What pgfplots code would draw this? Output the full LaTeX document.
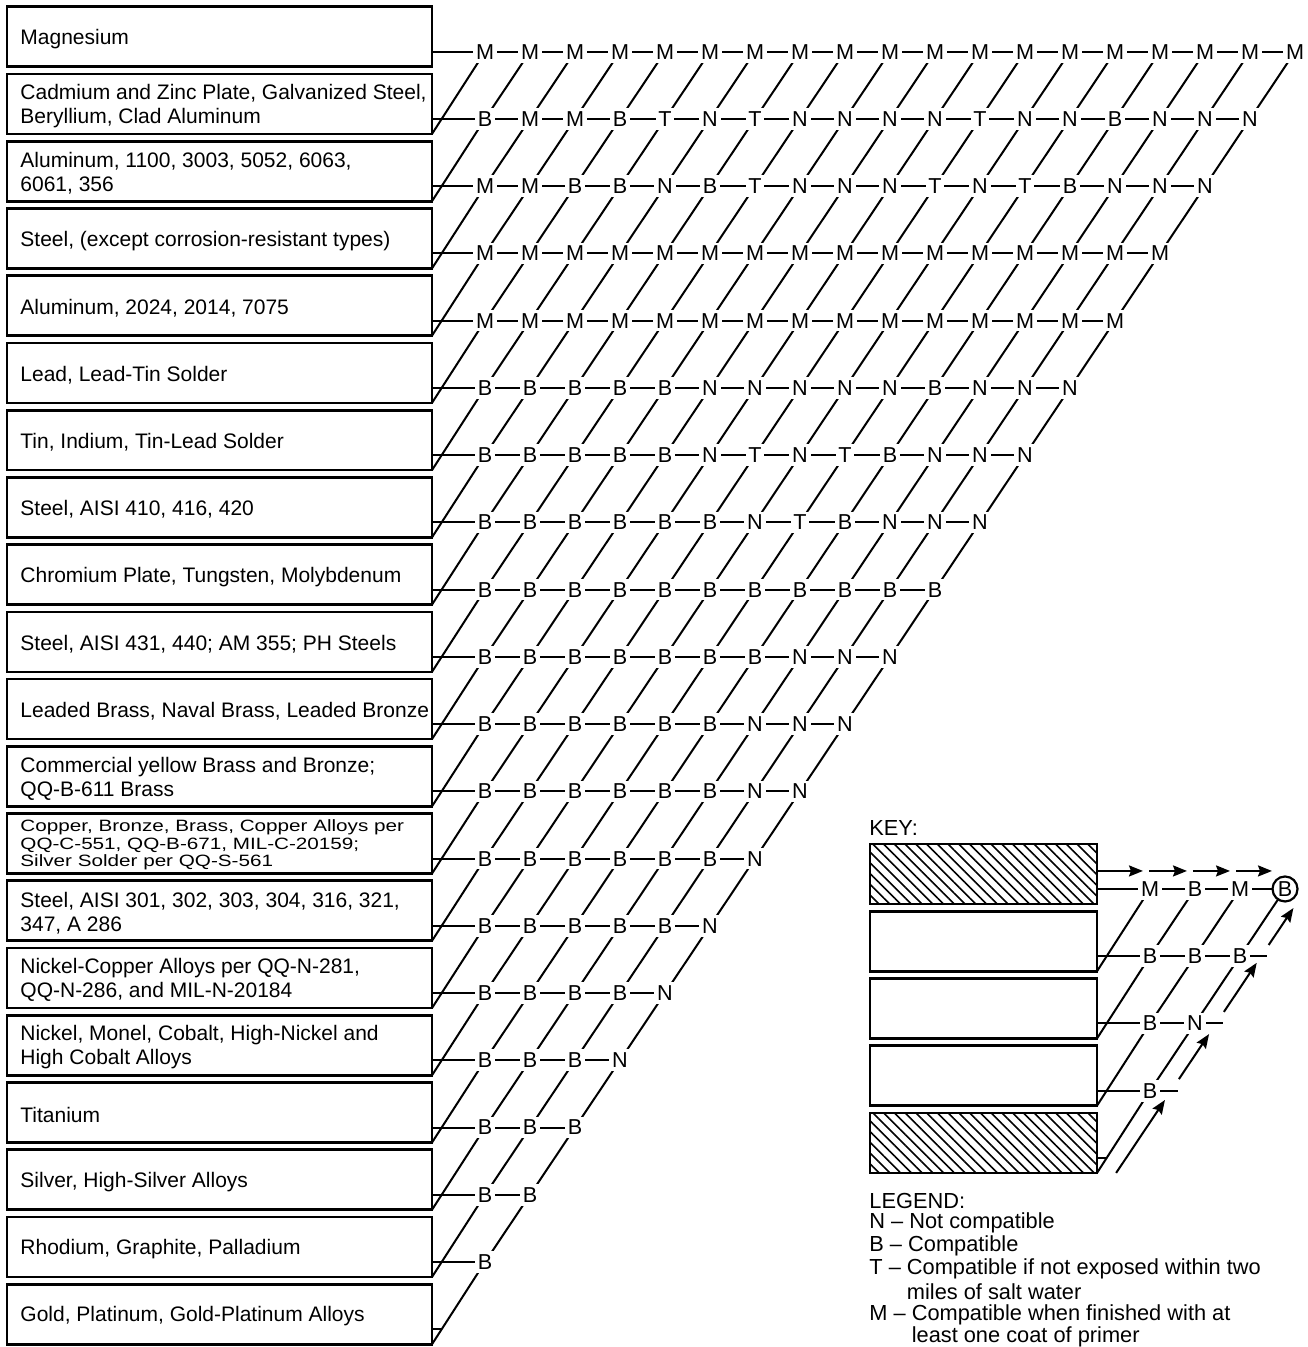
\documentclass[border=0pt]{standalone}
\usepackage{fontspec}
\setmainfont{Liberation Sans}
\usepackage{pgfplots}
\pgfplotsset{compat=1.18}
\usetikzlibrary{patterns.meta,arrows.meta}

\newcommand{\lbl}{\fontsize{10.5}{12}\selectfont}
\newcommand{\leg}{\fontsize{10.9}{12}\selectfont}
\newcommand{\ltr}{\fontsize{10.8}{11}\selectfont}

\pgfplotsset{
  box/.style={black, line width=1.35pt, line join=miter, line cap=rect, mark=none},
  hatched/.style={box, pattern={Lines[angle=-45,distance=3.8pt,line width=0.75pt]}},
  grid/.style={black, line width=1.0pt, mark=none},
  arr/.style={grid, -{Stealth[length=7pt,width=5.5pt,inset=1pt]}},
  letters/.style={draw=none, mark=none, point meta=explicit symbolic,
    nodes near coords,
    every node near coord/.append style={font=\ltr, text=black, fill=white,
      inner xsep=1.4pt, inner ysep=1.7pt, anchor=center}},
}
\tikzset{lab/.style={anchor=west, align=left, font=\lbl, inner sep=0pt}}

\begin{document}
\begin{tikzpicture}
\begin{axis}[
  x=22.5pt, y=33.62pt, y dir=reverse,
  xmin=-10.778, xmax=18.289, ymin=-0.769, ymax=19.264,
  hide axis, clip=false,
]
% frame of the page
\addplot[draw=none] coordinates {(-10.778,-0.769) (18.289,19.264)};

% material boxes
\addplot[box] coordinates {(-10.62,-0.669) (-1.178,-0.669) (-1.178,0.223) (-10.62,0.223) (-10.62,-0.669)};
\addplot[box] coordinates {(-10.62,0.331) (-1.178,0.331) (-1.178,1.223) (-10.62,1.223) (-10.62,0.331)};
\addplot[box] coordinates {(-10.62,1.331) (-1.178,1.331) (-1.178,2.223) (-10.62,2.223) (-10.62,1.331)};
\addplot[box] coordinates {(-10.62,2.331) (-1.178,2.331) (-1.178,3.223) (-10.62,3.223) (-10.62,2.331)};
\addplot[box] coordinates {(-10.62,3.331) (-1.178,3.331) (-1.178,4.223) (-10.62,4.223) (-10.62,3.331)};
\addplot[box] coordinates {(-10.62,4.331) (-1.178,4.331) (-1.178,5.223) (-10.62,5.223) (-10.62,4.331)};
\addplot[box] coordinates {(-10.62,5.331) (-1.178,5.331) (-1.178,6.223) (-10.62,6.223) (-10.62,5.331)};
\addplot[box] coordinates {(-10.62,6.331) (-1.178,6.331) (-1.178,7.223) (-10.62,7.223) (-10.62,6.331)};
\addplot[box] coordinates {(-10.62,7.331) (-1.178,7.331) (-1.178,8.223) (-10.62,8.223) (-10.62,7.331)};
\addplot[box] coordinates {(-10.62,8.331) (-1.178,8.331) (-1.178,9.223) (-10.62,9.223) (-10.62,8.331)};
\addplot[box] coordinates {(-10.62,9.331) (-1.178,9.331) (-1.178,10.223) (-10.62,10.223) (-10.62,9.331)};
\addplot[box] coordinates {(-10.62,10.331) (-1.178,10.331) (-1.178,11.223) (-10.62,11.223) (-10.62,10.331)};
\addplot[box] coordinates {(-10.62,11.331) (-1.178,11.331) (-1.178,12.223) (-10.62,12.223) (-10.62,11.331)};
\addplot[box] coordinates {(-10.62,12.331) (-1.178,12.331) (-1.178,13.223) (-10.62,13.223) (-10.62,12.331)};
\addplot[box] coordinates {(-10.62,13.331) (-1.178,13.331) (-1.178,14.223) (-10.62,14.223) (-10.62,13.331)};
\addplot[box] coordinates {(-10.62,14.331) (-1.178,14.331) (-1.178,15.223) (-10.62,15.223) (-10.62,14.331)};
\addplot[box] coordinates {(-10.62,15.331) (-1.178,15.331) (-1.178,16.223) (-10.62,16.223) (-10.62,15.331)};
\addplot[box] coordinates {(-10.62,16.331) (-1.178,16.331) (-1.178,17.223) (-10.62,17.223) (-10.62,16.331)};
\addplot[box] coordinates {(-10.62,17.331) (-1.178,17.331) (-1.178,18.223) (-10.62,18.223) (-10.62,17.331)};
\addplot[box] coordinates {(-10.62,18.331) (-1.178,18.331) (-1.178,19.223) (-10.62,19.223) (-10.62,18.331)};

% material names
\node[lab] at (axis cs:-10.333,-0.19) {Magnesium};
\node[lab] at (axis cs:-10.333,0.81) {Cadmium and Zinc Plate, Galvanized Steel,\\Beryllium, Clad Aluminum};
\node[lab] at (axis cs:-10.333,1.81) {Aluminum, 1100, 3003, 5052, 6063,\\6061, 356};
\node[lab] at (axis cs:-10.333,2.81) {Steel, (except corrosion-resistant types)};
\node[lab] at (axis cs:-10.333,3.81) {Aluminum, 2024, 2014, 7075};
\node[lab] at (axis cs:-10.333,4.81) {Lead, Lead-Tin Solder};
\node[lab] at (axis cs:-10.333,5.81) {Tin, Indium, Tin-Lead Solder};
\node[lab] at (axis cs:-10.333,6.81) {Steel, AISI 410, 416, 420};
\node[lab] at (axis cs:-10.333,7.81) {Chromium Plate, Tungsten, Molybdenum};
\node[lab] at (axis cs:-10.333,8.81) {Steel, AISI 431, 440; AM 355; PH Steels};
\node[lab] at (axis cs:-10.333,9.81) {Leaded Brass, Naval Brass, Leaded Bronze};
\node[lab] at (axis cs:-10.333,10.81) {Commercial yellow Brass and Bronze;\\QQ-B-611 Brass};
\node[lab, font={\fontsize{8.2}{8.7}\selectfont\addfontfeature{FakeStretch=1.26}\lineskiplimit=-8pt}] at (axis cs:-10.333,11.80) {Copper, Bronze, Brass, Copper Alloys per\\QQ-C-551, QQ-B-671, MIL-C-20159;\\Silver Solder per QQ-S-561};
\node[lab] at (axis cs:-10.333,12.81) {Steel, AISI 301, 302, 303, 304, 316, 321,\\347, A 286};
\node[lab] at (axis cs:-10.333,13.81) {Nickel-Copper Alloys per QQ-N-281,\\QQ-N-286, and MIL-N-20184};
\node[lab] at (axis cs:-10.333,14.81) {Nickel, Monel, Cobalt, High-Nickel and\\High Cobalt Alloys};
\node[lab] at (axis cs:-10.333,15.81) {Titanium};
\node[lab] at (axis cs:-10.333,16.81) {Silver, High-Silver Alloys};
\node[lab] at (axis cs:-10.333,17.81) {Rhodium, Graphite, Palladium};
\node[lab] at (axis cs:-10.333,18.81) {Gold, Platinum, Gold-Platinum Alloys};

% horizontal lines of the rows
\addplot[grid] coordinates {(-1.178,0) (18,0)};
\addplot[grid] coordinates {(-1.178,1) (17,1)};
\addplot[grid] coordinates {(-1.178,2) (16,2)};
\addplot[grid] coordinates {(-1.178,3) (15,3)};
\addplot[grid] coordinates {(-1.178,4) (14,4)};
\addplot[grid] coordinates {(-1.178,5) (13,5)};
\addplot[grid] coordinates {(-1.178,6) (12,6)};
\addplot[grid] coordinates {(-1.178,7) (11,7)};
\addplot[grid] coordinates {(-1.178,8) (10,8)};
\addplot[grid] coordinates {(-1.178,9) (9,9)};
\addplot[grid] coordinates {(-1.178,10) (8,10)};
\addplot[grid] coordinates {(-1.178,11) (7,11)};
\addplot[grid] coordinates {(-1.178,12) (6,12)};
\addplot[grid] coordinates {(-1.178,13) (5,13)};
\addplot[grid] coordinates {(-1.178,14) (4,14)};
\addplot[grid] coordinates {(-1.178,15) (3,15)};
\addplot[grid] coordinates {(-1.178,16) (2,16)};
\addplot[grid] coordinates {(-1.178,17) (1,17)};
\addplot[grid] coordinates {(-1.178,18) (0,18)};
\addplot[grid] coordinates {(-1.178,19) (-0.963,19)};

% diagonals from each box corner
\addplot[grid] coordinates {(-1.178,1.223) (0,0)};
\addplot[grid] coordinates {(-1.178,2.223) (0,1) (1,0)};
\addplot[grid] coordinates {(-1.178,3.223) (0,2) (2,0)};
\addplot[grid] coordinates {(-1.178,4.223) (0,3) (3,0)};
\addplot[grid] coordinates {(-1.178,5.223) (0,4) (4,0)};
\addplot[grid] coordinates {(-1.178,6.223) (0,5) (5,0)};
\addplot[grid] coordinates {(-1.178,7.223) (0,6) (6,0)};
\addplot[grid] coordinates {(-1.178,8.223) (0,7) (7,0)};
\addplot[grid] coordinates {(-1.178,9.223) (0,8) (8,0)};
\addplot[grid] coordinates {(-1.178,10.223) (0,9) (9,0)};
\addplot[grid] coordinates {(-1.178,11.223) (0,10) (10,0)};
\addplot[grid] coordinates {(-1.178,12.223) (0,11) (11,0)};
\addplot[grid] coordinates {(-1.178,13.223) (0,12) (12,0)};
\addplot[grid] coordinates {(-1.178,14.223) (0,13) (13,0)};
\addplot[grid] coordinates {(-1.178,15.223) (0,14) (14,0)};
\addplot[grid] coordinates {(-1.178,16.223) (0,15) (15,0)};
\addplot[grid] coordinates {(-1.178,17.223) (0,16) (16,0)};
\addplot[grid] coordinates {(-1.178,18.223) (0,17) (17,0)};
\addplot[grid] coordinates {(-1.178,19.223) (0,18) (18,0)};

% compatibility letters, one plot per row
\addplot[letters] coordinates {(0,0)[M] (1,0)[M] (2,0)[M] (3,0)[M] (4,0)[M] (5,0)[M] (6,0)[M] (7,0)[M] (8,0)[M] (9,0)[M] (10,0)[M] (11,0)[M] (12,0)[M] (13,0)[M] (14,0)[M] (15,0)[M] (16,0)[M] (17,0)[M] (18,0)[M]};
\addplot[letters] coordinates {(0,1)[B] (1,1)[M] (2,1)[M] (3,1)[B] (4,1)[T] (5,1)[N] (6,1)[T] (7,1)[N] (8,1)[N] (9,1)[N] (10,1)[N] (11,1)[T] (12,1)[N] (13,1)[N] (14,1)[B] (15,1)[N] (16,1)[N] (17,1)[N]};
\addplot[letters] coordinates {(0,2)[M] (1,2)[M] (2,2)[B] (3,2)[B] (4,2)[N] (5,2)[B] (6,2)[T] (7,2)[N] (8,2)[N] (9,2)[N] (10,2)[T] (11,2)[N] (12,2)[T] (13,2)[B] (14,2)[N] (15,2)[N] (16,2)[N]};
\addplot[letters] coordinates {(0,3)[M] (1,3)[M] (2,3)[M] (3,3)[M] (4,3)[M] (5,3)[M] (6,3)[M] (7,3)[M] (8,3)[M] (9,3)[M] (10,3)[M] (11,3)[M] (12,3)[M] (13,3)[M] (14,3)[M] (15,3)[M]};
\addplot[letters] coordinates {(0,4)[M] (1,4)[M] (2,4)[M] (3,4)[M] (4,4)[M] (5,4)[M] (6,4)[M] (7,4)[M] (8,4)[M] (9,4)[M] (10,4)[M] (11,4)[M] (12,4)[M] (13,4)[M] (14,4)[M]};
\addplot[letters] coordinates {(0,5)[B] (1,5)[B] (2,5)[B] (3,5)[B] (4,5)[B] (5,5)[N] (6,5)[N] (7,5)[N] (8,5)[N] (9,5)[N] (10,5)[B] (11,5)[N] (12,5)[N] (13,5)[N]};
\addplot[letters] coordinates {(0,6)[B] (1,6)[B] (2,6)[B] (3,6)[B] (4,6)[B] (5,6)[N] (6,6)[T] (7,6)[N] (8,6)[T] (9,6)[B] (10,6)[N] (11,6)[N] (12,6)[N]};
\addplot[letters] coordinates {(0,7)[B] (1,7)[B] (2,7)[B] (3,7)[B] (4,7)[B] (5,7)[B] (6,7)[N] (7,7)[T] (8,7)[B] (9,7)[N] (10,7)[N] (11,7)[N]};
\addplot[letters] coordinates {(0,8)[B] (1,8)[B] (2,8)[B] (3,8)[B] (4,8)[B] (5,8)[B] (6,8)[B] (7,8)[B] (8,8)[B] (9,8)[B] (10,8)[B]};
\addplot[letters] coordinates {(0,9)[B] (1,9)[B] (2,9)[B] (3,9)[B] (4,9)[B] (5,9)[B] (6,9)[B] (7,9)[N] (8,9)[N] (9,9)[N]};
\addplot[letters] coordinates {(0,10)[B] (1,10)[B] (2,10)[B] (3,10)[B] (4,10)[B] (5,10)[B] (6,10)[N] (7,10)[N] (8,10)[N]};
\addplot[letters] coordinates {(0,11)[B] (1,11)[B] (2,11)[B] (3,11)[B] (4,11)[B] (5,11)[B] (6,11)[N] (7,11)[N]};
\addplot[letters] coordinates {(0,12)[B] (1,12)[B] (2,12)[B] (3,12)[B] (4,12)[B] (5,12)[B] (6,12)[N]};
\addplot[letters] coordinates {(0,13)[B] (1,13)[B] (2,13)[B] (3,13)[B] (4,13)[B] (5,13)[N]};
\addplot[letters] coordinates {(0,14)[B] (1,14)[B] (2,14)[B] (3,14)[B] (4,14)[N]};
\addplot[letters] coordinates {(0,15)[B] (1,15)[B] (2,15)[B] (3,15)[N]};
\addplot[letters] coordinates {(0,16)[B] (1,16)[B] (2,16)[B]};
\addplot[letters] coordinates {(0,17)[B] (1,17)[B]};
\addplot[letters] coordinates {(0,18)[B]};

% ---- KEY ----
\node[lab, font=\leg] at (axis cs:8.533,11.545) {KEY:};
\addplot[hatched] coordinates {(8.556,11.783) (13.6,11.783) (13.6,12.675) (8.556,12.675) (8.556,11.783)};
\addplot[box] coordinates {(8.556,12.783) (13.6,12.783) (13.6,13.675) (8.556,13.675) (8.556,12.783)};
\addplot[box] coordinates {(8.556,13.783) (13.6,13.783) (13.6,14.675) (8.556,14.675) (8.556,13.783)};
\addplot[box] coordinates {(8.556,14.783) (13.6,14.783) (13.6,15.675) (8.556,15.675) (8.556,14.783)};
\addplot[hatched] coordinates {(8.556,15.783) (13.6,15.783) (13.6,16.675) (8.556,16.675) (8.556,15.783)};

\addplot[grid] coordinates {(13.6,12.452) (17.778,12.452)};
\addplot[grid] coordinates {(13.6,13.452) (17.378,13.452)};
\addplot[grid] coordinates {(13.6,14.452) (16.4,14.452)};
\addplot[grid] coordinates {(13.6,15.452) (15.4,15.452)};
\addplot[grid] coordinates {(13.6,16.452) (13.815,16.452)};

\addplot[grid] coordinates {(13.6,13.675) (14.778,12.452)};
\addplot[grid] coordinates {(13.6,14.675) (14.778,13.452) (15.778,12.452)};
\addplot[grid] coordinates {(13.6,15.675) (14.778,14.452) (16.778,12.452)};
\addplot[grid] coordinates {(13.6,16.675) (14.778,15.452) (17.778,12.452)};

% arrows along the first row and along the last diagonal
\addplot[arr] coordinates {(13.6,12.184) (14.622,12.184)};
\addplot[arr] coordinates {(14.756,12.184) (15.6,12.184)};
\addplot[arr] coordinates {(15.733,12.184) (16.556,12.184)};
\addplot[arr] coordinates {(16.689,12.184) (17.489,12.184)};
\addplot[arr] coordinates {(14.025,16.675) (15.11,15.59)};
\addplot[arr] coordinates {(15.42,15.28) (16.09,14.61)};
\addplot[arr] coordinates {(16.42,14.28) (17.15,13.55)};
\addplot[arr] coordinates {(17.415,13.285) (17.965,12.735)};

\addplot[letters] coordinates {(14.778,12.452)[M] (15.778,12.452)[B] (16.778,12.452)[M]};
\addplot[letters] coordinates {(14.778,13.452)[B] (15.778,13.452)[B] (16.778,13.452)[B]};
\addplot[letters] coordinates {(14.778,14.452)[B] (15.778,14.452)[N]};
\addplot[letters] coordinates {(14.778,15.452)[B]};
\addplot[letters, every node near coord/.append style={circle, draw=black, line width=1.1pt, minimum size=12.5pt, inner sep=0pt}] coordinates {(17.778,12.452)[B]};

% ---- LEGEND ----
\node[lab, font=\leg] at (axis cs:8.533,17.09) {LEGEND:};
\node[lab, font=\leg] at (axis cs:8.533,17.42) {N – Not compatible};
\node[lab, font=\leg] at (axis cs:8.533,17.76) {B – Compatible};
\node[lab, font=\leg] at (axis cs:8.533,18.10) {T – Compatible if not exposed within two};
\node[lab, font=\leg] at (axis cs:8.533,18.44) {\phantom{T – }miles of salt water};
\node[lab, font=\leg] at (axis cs:8.533,18.78) {M – Compatible when finished with at};
\node[lab, font=\leg] at (axis cs:8.533,19.11) {\phantom{M – }least one coat of primer};
\end{axis}
\end{tikzpicture}
\end{document}
